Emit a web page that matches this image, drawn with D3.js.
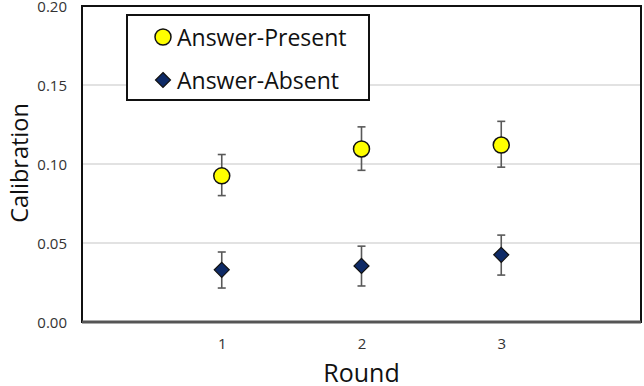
<!DOCTYPE html>
<html>
<head>
<meta charset="utf-8">
<script src="https://cdn.jsdelivr.net/npm/d3@7"></script>
<style>
  body { margin: 0; background: #fff; }
  text { font-family: "Open Sans", sans-serif; }
</style>
</head>
<body>
<script>
(() => {
    // data
    var rounds = [1, 2, 3];
    var presentMean = [0.0925, 0.1095, 0.112];
    var presentLow = [0.080, 0.096, 0.098];
    var presentHigh = [0.106, 0.1235, 0.127];
    var absentMean = [0.033, 0.0355, 0.0425];
    var absentLow = [0.0215, 0.0228, 0.0297];
    var absentHigh = [0.0443, 0.048, 0.055];
    var yTicks = [0, 0.05, 0.10, 0.15, 0.20];
    var seriesNames = ["Answer-Present", "Answer-Absent"];

    var w = 644, h = 386;
    var margin = { top: 6, bottom: 64, left: 82, right: 3 };

    var svg = d3.select("body").append("svg")
        .attr("width", w).attr("height", h);

    var iw = w - margin.left - margin.right,
        ih = h - margin.top - margin.bottom;

    var graph = svg.append("g")
        .attr("transform", "translate(" + [margin.left, margin.top] + ")");

    var x = d3.scaleLinear().domain([0, 4]).range([0, iw]);
    var y = d3.scaleLinear().domain([0, 0.2]).range([ih, 0]);

    // horizontal gridlines
    graph.selectAll(".grid").data(yTicks.filter(d => d > 0 && d < 0.2)).enter()
        .append("line").attr("class", "grid")
        .attr("x1", 0).attr("x2", iw)
        .attr("y1", d => y(d)).attr("y2", d => y(d))
        .attr("stroke", "#d9d9d9").attr("stroke-width", 1.5);

    // y axis labels
    var yAxis = d3.axisLeft(y).tickValues(yTicks).tickFormat(d3.format(".2f"))
        .tickSize(0).tickPadding(15);
    var ya = graph.append("g").call(yAxis);
    ya.select(".domain").remove();
    ya.selectAll("text").attr("font-size", 15).attr("fill", "#333")
        .attr("dy", "0.36em")
        .style("font-family", "Open Sans, sans-serif");

    // x axis labels
    var xAxis = d3.axisBottom(x).tickValues(rounds).tickFormat(d3.format("d"))
        .tickSize(0).tickPadding(16);
    var xa = graph.append("g").attr("transform", "translate(0," + ih + ")").call(xAxis);
    xa.select(".domain").remove();
    xa.selectAll("text").attr("font-size", 15).attr("fill", "#333")
        .style("font-family", "Open Sans, sans-serif");

    // frame
    graph.append("rect").attr("x", 0).attr("y", 0).attr("width", iw).attr("height", ih)
        .attr("fill", "none").attr("stroke", "#111").attr("stroke-width", 2);
    graph.append("line").attr("x1", 0).attr("x2", iw).attr("y1", ih).attr("y2", ih)
        .attr("stroke", "#555").attr("stroke-width", 3);

    // axis titles
    svg.append("text").attr("transform", "translate(19," + 163 + ") rotate(-90)")
        .attr("text-anchor", "middle").attr("dominant-baseline", "central")
        .attr("font-size", 23.5).attr("fill", "#111").text("Calibration");
    svg.append("text").attr("x", margin.left + x(2)).attr("y", 372)
        .attr("text-anchor", "middle").attr("dominant-baseline", "central")
        .attr("font-size", 25).attr("fill", "#111").text("Round");

    function errorBars(low, high) {
        var g = graph.append("g");
        rounds.forEach((r, i) => {
            var cx = x(r);
            g.append("line").attr("x1", cx).attr("x2", cx)
                .attr("y1", y(low[i])).attr("y2", y(high[i]));
            g.append("line").attr("x1", cx - 4).attr("x2", cx + 4)
                .attr("y1", y(low[i])).attr("y2", y(low[i]));
            g.append("line").attr("x1", cx - 4).attr("x2", cx + 4)
                .attr("y1", y(high[i])).attr("y2", y(high[i]));
        });
        g.selectAll("line").attr("stroke", "#595959").attr("stroke-width", 1.6);
    }

    errorBars(presentLow, presentHigh);
    errorBars(absentLow, absentHigh);

    var diamond = "M0,-7.5L7.5,0L0,7.5L-7.5,0Z";

    graph.selectAll(".present").data(presentMean).enter()
        .append("circle").attr("class", "present")
        .attr("cx", (d, i) => x(rounds[i])).attr("cy", d => y(d)).attr("r", 8)
        .attr("fill", "#ffff00").attr("stroke", "#111").attr("stroke-width", 1.5);

    graph.selectAll(".absent").data(absentMean).enter()
        .append("path").attr("class", "absent")
        .attr("transform", (d, i) => "translate(" + [x(rounds[i]), y(d)] + ")")
        .attr("d", diamond)
        .attr("fill", "#0e2a66").attr("stroke", "#111").attr("stroke-width", 1.2);

    // legend
    var legend = svg.append("g");
    legend.append("rect").attr("x", 127).attr("y", 15).attr("width", 242).attr("height", 85)
        .attr("fill", "#fff").attr("stroke", "#111").attr("stroke-width", 2);
    legend.append("circle").attr("cx", 163).attr("cy", 37).attr("r", 8)
        .attr("fill", "#ffff00").attr("stroke", "#111").attr("stroke-width", 1.5);
    legend.append("path").attr("transform", "translate(163,80)").attr("d", diamond)
        .attr("fill", "#0e2a66").attr("stroke", "#111").attr("stroke-width", 1.2);
    legend.selectAll(".ltext").data(seriesNames).enter()
        .append("text").attr("class", "ltext")
        .attr("x", 177).attr("y", (d, i) => i === 0 ? 37 : 80)
        .attr("dominant-baseline", "central")
        .attr("font-size", 23).attr("fill", "#111").text(d => d);
})()
</script>
</body>
</html>
